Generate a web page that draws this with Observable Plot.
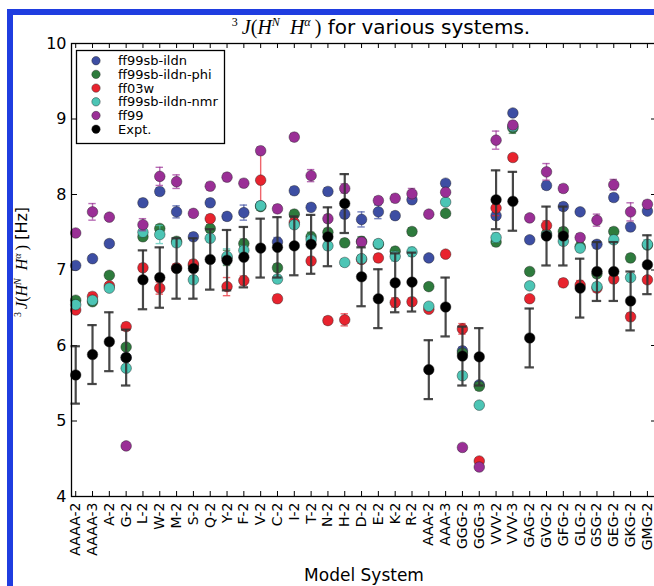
<!DOCTYPE html>
<html><head><meta charset="utf-8">
<script src="https://cdn.jsdelivr.net/npm/d3@7"></script>
<script src="https://cdn.jsdelivr.net/npm/@observablehq/plot@0.6"></script>
<style>
html,body{margin:0;padding:0;background:#fff;overflow:hidden;width:654px;height:586px;}
#border{position:absolute;left:7px;top:9px;width:720px;height:660px;border-left:6px solid #1f3de0;border-top:6px solid #1f3de0;box-sizing:border-box;}
#chart{position:absolute;left:0;top:0;width:700px;}
#chart svg{max-width:none;}
</style></head><body>
<div id="border"></div>
<div id="chart"></div>
<script>
const categories = ["AAAA-2","AAAA-3","A-2","G-2","L-2","W-2","M-2","S-2","Q-2","Y-2","F-2","V-2","C-2","I-2","T-2","N-2","H-2","D-2","E-2","K-2","R-2","AAA-2","AAA-3","GGG-2","GGG-3","VVV-2","VVV-3","GAG-2","GVG-2","GFG-2","GLG-2","GSG-2","GEG-2","GKG-2","GMG-2"];
const yTicks = [4,5,6,7,8,9,10];

const ff99sbIldn = [7.06,7.15,7.35,5.84,7.89,8.04,7.77,7.44,7.89,7.71,7.76,7.85,7.37,8.05,7.83,8.04,7.74,7.67,7.77,7.72,7.93,7.16,8.15,5.93,5.48,7.72,9.08,7.40,8.12,7.84,7.77,7.34,7.96,7.57,7.78];
const ff99sbIldnErr = [0.04,0.04,0.04,0.04,0.05,0.05,0.08,0.05,0.05,0.05,0.10,0.05,0.06,0.05,0.05,0.05,0.05,0.10,0.09,0.05,0.05,0.04,0.04,0.05,0.04,0.05,0.04,0.04,0.05,0.05,0.04,0.05,0.05,0.05,0.04];

const ff99sbIldnPhi = [6.60,6.58,6.93,5.98,7.44,7.55,7.38,7.06,7.55,7.16,7.35,7.84,7.03,7.74,7.44,7.50,7.36,7.38,7.34,7.25,7.51,6.78,7.75,5.90,5.46,7.37,8.88,6.98,7.48,7.51,7.31,6.95,7.51,7.16,7.33];
const ff99sbIldnPhiErr = [0.04,0.04,0.04,0.04,0.05,0.05,0.05,0.05,0.05,0.10,0.06,0.05,0.05,0.05,0.06,0.05,0.05,0.06,0.05,0.05,0.05,0.04,0.04,0.05,0.05,0.05,0.07,0.04,0.05,0.05,0.05,0.05,0.05,0.05,0.04];

const ff03w = [6.47,6.65,6.79,6.25,7.03,6.76,7.03,7.08,7.68,6.78,6.86,8.19,6.62,7.63,7.12,6.33,6.34,7.14,7.16,6.57,6.58,6.48,7.21,6.22,4.47,7.82,8.49,6.62,7.59,6.83,6.80,6.76,6.88,6.38,6.87];
const ff03wErr = [0.04,0.05,0.04,0.05,0.05,0.08,0.05,0.05,0.05,0.12,0.06,0.37,0.05,0.05,0.05,0.05,0.08,0.05,0.05,0.06,0.05,0.04,0.04,0.07,0.04,0.10,0.04,0.04,0.06,0.05,0.06,0.05,0.05,0.05,0.04];

const ff99sbIldnNmr = [6.54,6.60,6.76,5.70,7.50,7.47,7.36,6.87,7.42,7.18,7.26,7.85,6.88,7.60,7.40,7.32,7.10,7.15,7.35,7.18,7.24,6.52,7.90,5.60,5.21,7.43,8.90,6.79,7.46,7.38,7.29,6.78,7.40,6.90,7.34];
const ff99sbIldnNmrErr = [0.04,0.04,0.04,0.04,0.05,0.12,0.05,0.05,0.05,0.10,0.06,0.05,0.05,0.05,0.06,0.05,0.05,0.05,0.05,0.06,0.06,0.04,0.04,0.05,0.04,0.06,0.04,0.04,0.05,0.05,0.05,0.05,0.05,0.05,0.06];

const ff99 = [7.49,7.77,7.70,4.67,7.60,8.24,8.17,7.75,8.11,8.23,8.15,8.58,7.81,8.76,8.25,7.68,8.08,7.37,7.92,7.95,8.01,7.74,8.03,4.65,4.39,8.72,8.92,7.69,8.30,8.08,7.43,7.66,8.13,7.77,7.87];
const ff99Err = [0.04,0.11,0.04,0.04,0.08,0.12,0.09,0.05,0.05,0.05,0.05,0.05,0.05,0.05,0.08,0.05,0.06,0.05,0.05,0.05,0.07,0.04,0.04,0.04,0.04,0.12,0.05,0.04,0.11,0.05,0.05,0.08,0.07,0.12,0.05];

const expt = [5.61,5.88,6.05,5.84,6.87,6.90,7.02,7.02,7.14,7.13,7.17,7.29,7.30,7.32,7.34,7.44,7.88,6.91,6.62,6.83,6.84,5.68,6.51,5.86,5.85,7.93,7.91,6.10,7.45,7.45,6.76,6.98,6.98,6.59,7.07];
const exptErr = [0.38,0.39,0.39,0.37,0.39,0.40,0.40,0.40,0.40,0.40,0.40,0.39,0.40,0.39,0.39,0.39,0.39,0.39,0.39,0.39,0.39,0.39,0.39,0.39,0.38,0.39,0.39,0.39,0.39,0.39,0.39,0.39,0.39,0.39,0.39];

const seriesNames = ["ff99sb-ildn","ff99sb-ildn-phi","ff03w","ff99sb-ildn-nmr","ff99","Expt."];
const seriesColors = ["#3d4ea3","#2e7b3d","#e8232e","#4cc5b5","#9a2f96","#000000"];
const seriesValues = [ff99sbIldn, ff99sbIldnPhi, ff03w, ff99sbIldnNmr, ff99, expt];
const seriesErrors = [ff99sbIldnErr, ff99sbIldnPhiErr, ff03wErr, ff99sbIldnNmrErr, ff99Err, exptErr];

const idx = categories.map((_, i) => i);
const W = 700, H = 586, mL = 71, mR = 43, mT = 43, mB = 90;
const plotW = W - mL - mR, plotH = H - mT - mB;

const marks = [];
// inward ticks on all four sides
marks.push(Plot.tickX(idx, {x: d => d, insetTop: plotH - 5, stroke: "#000", strokeWidth: 1}));
marks.push(Plot.tickX(idx, {x: d => d, insetBottom: plotH - 5, stroke: "#000", strokeWidth: 1}));
marks.push(Plot.tickY(yTicks, {y: d => d, insetRight: plotW - 6, stroke: "#000", strokeWidth: 1}));
marks.push(Plot.tickY(yTicks, {y: d => d, insetLeft: plotW - 6, stroke: "#000", strokeWidth: 1}));

seriesNames.forEach((name, s) => {
  const isExp = s === 5;
  const data = seriesValues[s].map((v, i) => ({i, v, e: seriesErrors[s][i]}));
  const ec = isExp ? "#333" : seriesColors[s];
  const cap = isExp ? 0.28 : 0.22;
  const sw = isExp ? 2.2 : 1.4;
  const op = isExp ? 0.9 : 0.7;
  marks.push(Plot.ruleX(data, {x: "i", y1: d => d.v - d.e, y2: d => d.v + d.e, stroke: ec, strokeWidth: sw, strokeOpacity: op}));
  marks.push(Plot.ruleY(data, {y: d => d.v - d.e, x1: d => d.i - cap, x2: d => d.i + cap, stroke: ec, strokeWidth: sw, strokeOpacity: op}));
  marks.push(Plot.ruleY(data, {y: d => d.v + d.e, x1: d => d.i - cap, x2: d => d.i + cap, stroke: ec, strokeWidth: sw, strokeOpacity: op}));
  marks.push(Plot.dot(data, {x: "i", y: "v", r: 5.3, fill: seriesColors[s], stroke: "#222", strokeWidth: 0.8, strokeOpacity: 0.55}));
});

marks.push(Plot.frame({stroke: "#000", strokeWidth: 1.3}));
marks.push(Plot.axisX({ticks: idx, tickFormat: i => categories[i], tickRotate: -90, tickSize: 0, tickPadding: 6, fontSize: 14, label: null}));
marks.push(Plot.axisY({ticks: yTicks, tickFormat: d => String(d), tickSize: 0, tickPadding: 5, fontSize: 16, label: null}));

const chart = Plot.plot({
  width: W, height: H,
  marginLeft: mL, marginRight: mR, marginTop: mT, marginBottom: mB,
  style: {fontFamily: "DejaVu Sans", color: "#000", background: "transparent", overflow: "visible"},
  x: {type: "linear", domain: [-0.25, 34.6]},
  y: {domain: [4, 10]},
  marks
});
document.getElementById("chart").appendChild(chart);

const svg = d3.select(chart);
const serif = "Liberation Serif, DejaVu Serif, serif";

function mathLabel(sel, big, small, shift, tail) {
  sel.append("tspan").attr("font-family", serif).attr("font-size", small).attr("dy", -shift).text("3");
  sel.append("tspan").attr("font-family", serif).attr("font-size", big).attr("dy", shift).text("\u2009");
  sel.append("tspan").attr("font-family", serif).attr("font-style", "italic").attr("font-size", big).text("J");
  sel.append("tspan").attr("font-family", serif).attr("font-size", big).text("(");
  sel.append("tspan").attr("font-family", serif).attr("font-style", "italic").attr("font-size", big).text("H");
  sel.append("tspan").attr("font-family", serif).attr("font-style", "italic").attr("font-size", small).attr("dy", -shift).text("N");
  sel.append("tspan").attr("font-family", serif).attr("font-style", "italic").attr("font-size", big).attr("dy", shift).text("\u2002H");
  sel.append("tspan").attr("font-family", serif).attr("font-style", "italic").attr("font-size", small).attr("dy", -shift).text("\u03b1");
  sel.append("tspan").attr("font-family", serif).attr("font-size", big).attr("dy", shift).text("\u2009)");
  sel.append("tspan").attr("font-family", "DejaVu Sans").attr("font-size", big).text(tail);
}

// title
const title = svg.append("text").attr("x", 381).attr("y", 34).attr("text-anchor", "middle").attr("fill", "#000");
mathLabel(title, 20, 12, 8, " for various systems.");

// y label
const ylab = svg.append("text").attr("transform", "translate(27,262) rotate(-90)").attr("text-anchor", "middle").attr("fill", "#000");
mathLabel(ylab, 16, 10, 6, " [Hz]");

// x label
svg.append("text").attr("x", 364).attr("y", 581).attr("text-anchor", "middle")
  .attr("font-family", "DejaVu Sans").attr("font-size", 17).attr("fill", "#000").text("Model System");

// legend
const lg = svg.append("g").attr("text-anchor", "start");
lg.append("rect").attr("x", 76.5).attr("y", 50.5).attr("width", 148).attr("height", 93)
  .attr("fill", "#fff").attr("stroke", "#000").attr("stroke-width", 1.3);
seriesNames.forEach((name, s) => {
  const cy = 60.7 + s * 13.7;
  lg.append("circle").attr("cx", 96).attr("cy", cy).attr("r", 4.2)
    .attr("fill", seriesColors[s]).attr("stroke", "#222").attr("stroke-opacity", 0.55).attr("stroke-width", 0.8);
  lg.append("text").attr("x", 118).attr("y", cy).attr("dy", "0.35em").attr("text-anchor", "start")
    .attr("font-family", "DejaVu Sans").attr("font-size", 13).attr("fill", "#000").text(name);
});
</script>
</body></html>
